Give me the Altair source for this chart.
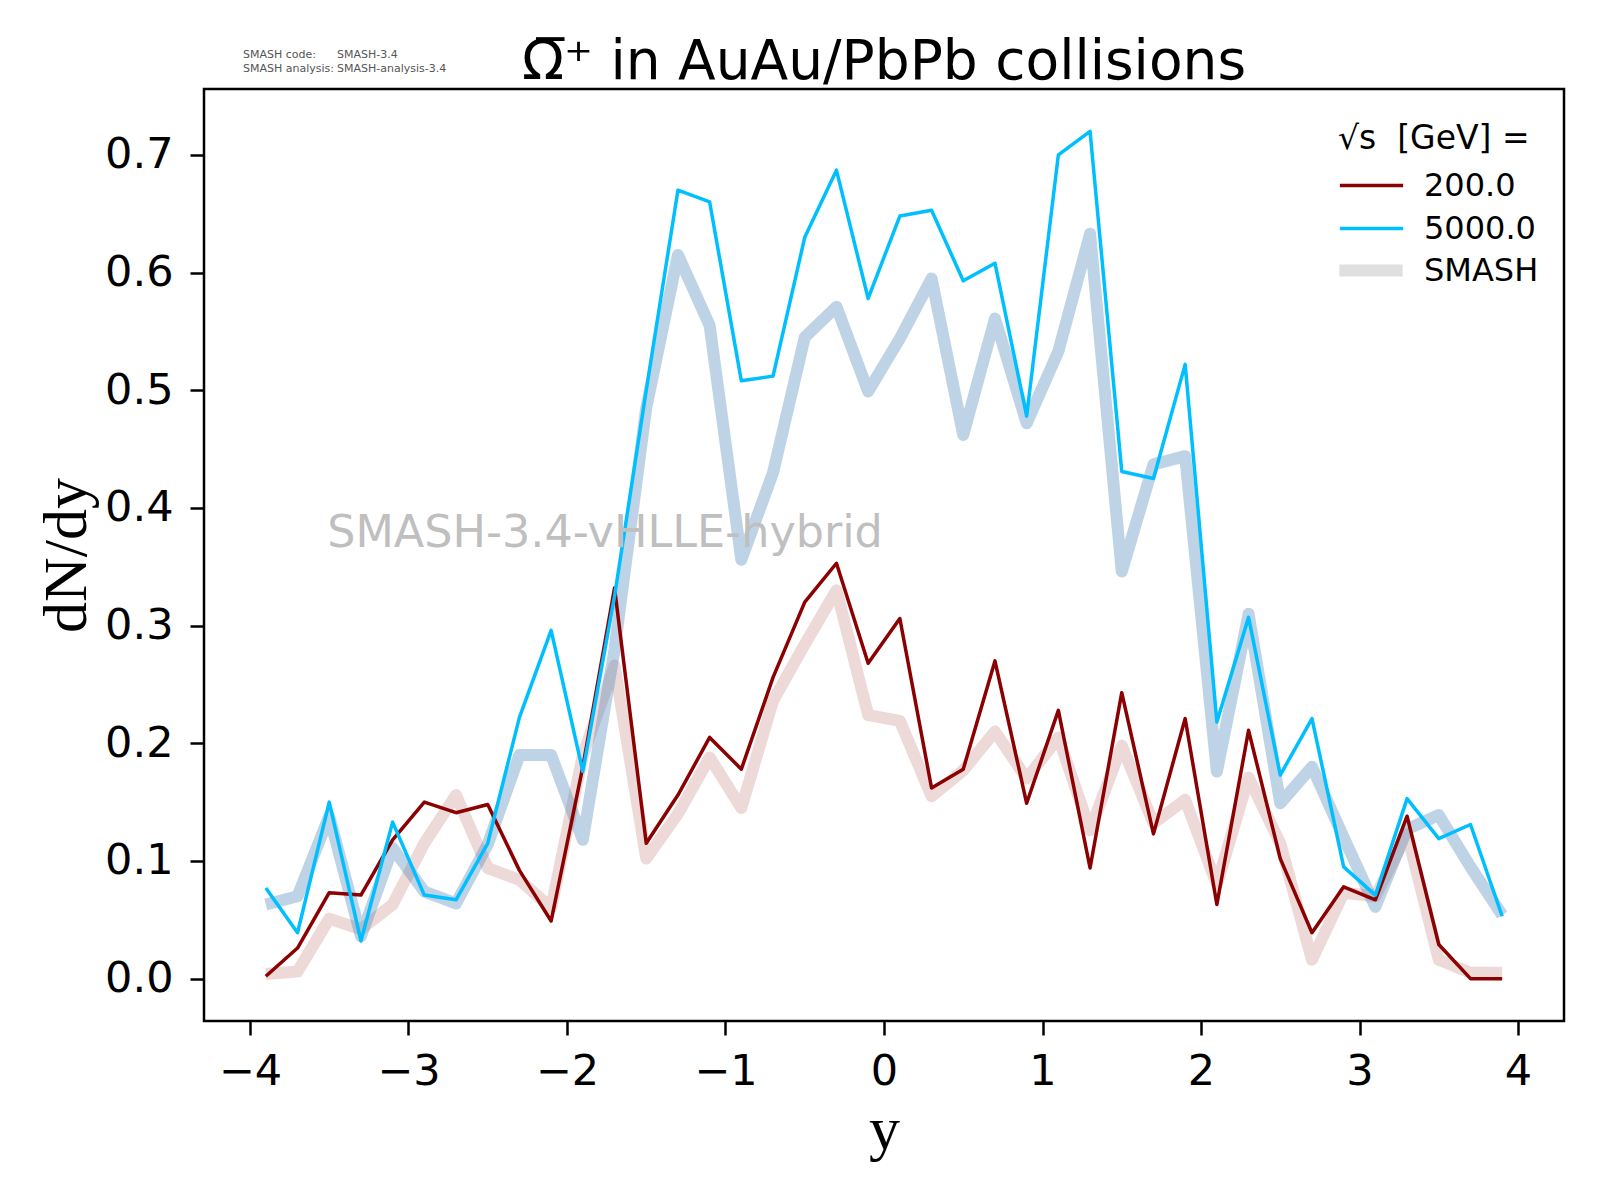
import altair as alt
import pandas as pd

# rapidity bins
rapidity = [-3.9, -3.7, -3.5, -3.3, -3.1, -2.9, -2.7, -2.5, -2.3, -2.1,
            -1.9, -1.7, -1.5, -1.3, -1.1, -0.9, -0.7, -0.5, -0.3, -0.1,
            0.1, 0.3, 0.5, 0.7, 0.9, 1.1, 1.3, 1.5, 1.7, 1.9,
            2.1, 2.3, 2.5, 2.7, 2.9, 3.1, 3.3, 3.5, 3.7, 3.9]

# hybrid 200 GeV
hyb_200 = [0.002, 0.026, 0.073, 0.071, 0.118, 0.150, 0.141, 0.148, 0.092, 0.049,
           0.180, 0.332, 0.115, 0.156, 0.205, 0.178, 0.256, 0.320, 0.353, 0.268,
           0.306, 0.162, 0.178, 0.270, 0.149, 0.228, 0.094, 0.243, 0.123, 0.221,
           0.063, 0.211, 0.102, 0.039, 0.078, 0.067, 0.138, 0.029, 0.000, 0.000]

# hybrid 5000 GeV
hyb_5000 = [0.077, 0.039, 0.150, 0.032, 0.133, 0.071, 0.067, 0.115, 0.222, 0.296,
            0.176, 0.325, 0.500, 0.670, 0.660, 0.508, 0.512, 0.630, 0.687, 0.578,
            0.648, 0.653, 0.593, 0.608, 0.478, 0.700, 0.720, 0.431, 0.425, 0.522,
            0.218, 0.307, 0.173, 0.221, 0.095, 0.071, 0.153, 0.119, 0.131, 0.053]

# SMASH reference 200 GeV
smash_200 = [0.004, 0.006, 0.051, 0.042, 0.063, 0.115, 0.156, 0.094, 0.084, 0.060,
             0.190, 0.266, 0.102, 0.140, 0.188, 0.145, 0.236, 0.284, 0.330, 0.224,
             0.219, 0.155, 0.177, 0.210, 0.170, 0.205, 0.126, 0.198, 0.132, 0.152,
             0.080, 0.171, 0.115, 0.016, 0.073, 0.070, 0.123, 0.016, 0.005, 0.005]

# SMASH reference 5000 GeV
smash_5000 = [0.063, 0.070, 0.138, 0.036, 0.111, 0.074, 0.064, 0.114, 0.190, 0.190,
              0.118, 0.280, 0.485, 0.615, 0.555, 0.356, 0.430, 0.545, 0.571, 0.499,
              0.544, 0.595, 0.462, 0.561, 0.472, 0.533, 0.633, 0.346, 0.437, 0.444,
              0.176, 0.310, 0.149, 0.180, 0.120, 0.061, 0.127, 0.139, 0.095, 0.054]

energy_labels = ["200.0", "5000.0"]
energy_colors = ["#8B0000", "#00BFFF"]
x_ticks = [-4, -3, -2, -1, 0, 1, 2, 3, 4]
y_ticks = [0.0, 0.1, 0.2, 0.3, 0.4, 0.5, 0.6, 0.7]

title_text = "Ω̅⁺ in AuAu/PbPb collisions"
watermark_text = "SMASH-3.4-vHLLE-hybrid"
info_labels = ["SMASH code:", "SMASH analysis:"]
info_values = ["SMASH-3.4", "SMASH-analysis-3.4"]

thin = pd.DataFrame({
    "y": rapidity * 2,
    "dNdy": hyb_200 + hyb_5000,
    "label": ["200.0"] * len(rapidity) + ["5000.0"] * len(rapidity),
    "order": [0] * len(rapidity) + [1] * len(rapidity),
})
thick200 = pd.DataFrame({"y": rapidity, "dNdy": smash_200, "ref": "SMASH"})
thick5000 = pd.DataFrame({"y": rapidity, "dNdy": smash_5000, "ref": "SMASH"})

xscale = alt.Scale(domain=[-4.29, 4.29], nice=False, zero=False)
yscale = alt.Scale(domain=[-0.036, 0.756], nice=False, zero=False)

xenc = alt.X("y:Q", scale=xscale,
             axis=alt.Axis(values=x_ticks, format="d", title="y"))
yenc = alt.Y("dNdy:Q", scale=yscale,
             axis=alt.Axis(values=y_ticks, format=".1f", title="dN/dy"))

smash_width = alt.StrokeWidth(
    "ref:N",
    scale=alt.Scale(domain=["SMASH"], range=[12, 12]),
    legend=alt.Legend(title=None, orient="none", legendX=1129, legendY=160,
                      symbolStrokeColor="#DFDFDF", symbolOpacity=1, labelOffset=15),
)

l_s200 = alt.Chart(thick200).mark_line(
    color="#8B0000", opacity=0.15, strokeJoin="round"
).encode(x=xenc, y=yenc, strokeWidth=smash_width)

l_s5000 = alt.Chart(thick5000).mark_line(
    color="#4682B4", opacity=0.35, strokeJoin="round"
).encode(x=xenc, y=yenc, strokeWidth=smash_width)

l_thin = alt.Chart(thin).mark_line(strokeJoin="round", strokeWidth=3.5).encode(
    x=xenc, y=yenc,
    color=alt.Color(
        "label:N",
        scale=alt.Scale(domain=energy_labels, range=energy_colors),
        legend=alt.Legend(title="√s\u00a0\u00a0[GeV] =", orient="none",
                          legendX=1134, legendY=34, symbolStrokeWidth=3.5),
    ),
    order="order:Q",
)


def text_layer(txt, x, y, size, color, align="left", font="DejaVu Sans"):
    return alt.Chart(pd.DataFrame({"t": [txt]})).mark_text(
        fontSize=size, font=font, color=color, align=align, baseline="alphabetic"
    ).encode(text="t:N", x=alt.value(x), y=alt.value(y))


watermark = text_layer(watermark_text, 401, 458, 44.5, "#BFBFBF", align="center")
title = text_layer(title_text, 680, -10, 55, "black", align="center")
info1 = text_layer(info_labels[0], 39, -31, 11, "#555555")
info2 = text_layer(info_labels[1], 39, -17, 11, "#555555")
info3 = text_layer(info_values[0], 133, -31, 11, "#555555")
info4 = text_layer(info_values[1], 133, -17, 11, "#555555")

chart = alt.layer(l_s200, l_s5000, l_thin, watermark, title,
                  info1, info2, info3, info4).resolve_scale(
    strokeWidth="shared"
).properties(
    width=1360, height=932,
    autosize=alt.AutoSizeParams(type="none"),
    padding={"left": 196, "top": 81, "right": 20, "bottom": 160},
).configure_view(
    stroke="black", strokeWidth=2.5
).configure_axis(
    domain=False, grid=False,
    labelFont="DejaVu Sans", labelFontSize=43, labelColor="black",
    tickColor="black", tickWidth=2.5, tickSize=14,
    titleFont="Liberation Serif", titleFontSize=62, titleFontWeight="normal",
    titleColor="black",
).configure_axisX(
    labelPadding=15, titlePadding=6,
).configure_axisY(
    labelPadding=17, titlePadding=6,
).configure_legend(
    titleFont="DejaVu Sans", titleFontSize=33, titleFontWeight="normal",
    titleColor="black", titlePadding=8, titleLimit=500,
    labelFont="DejaVu Sans", labelFontSize=32, labelColor="black", labelOffset=19,
    labelLimit=300,
    symbolType="stroke", symbolSize=4000,
    clipHeight=43, rowPadding=0, padding=0,
)

chart.save("out.html", embed_options={"renderer": "svg", "actions": False})
